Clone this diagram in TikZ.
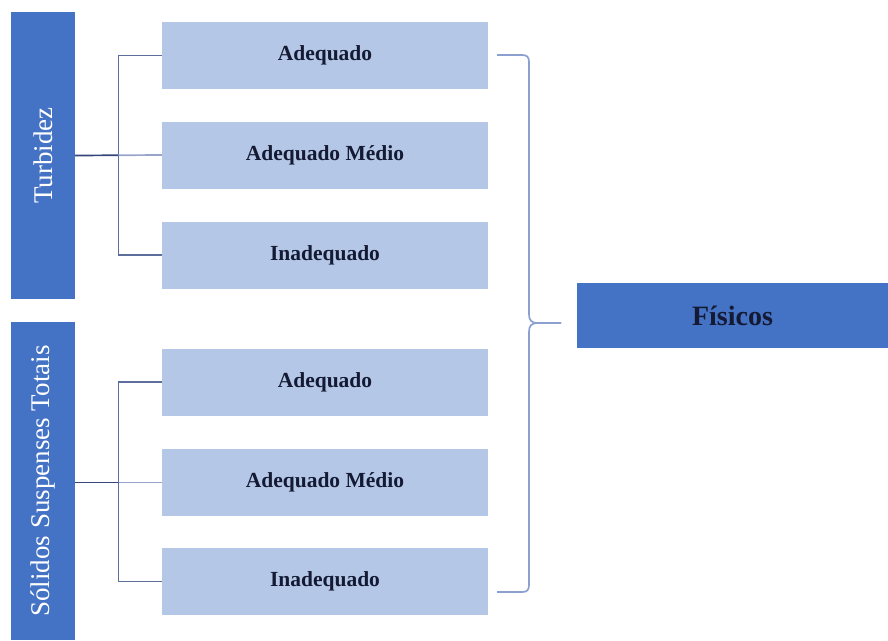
\documentclass[tikz,border=0pt]{standalone}
\usepackage{fontspec}
\setmainfont{Liberation Serif}
\usepackage{graphicx}
\usetikzlibrary{calc}

\definecolor{darkblue}{HTML}{4472C4}
\definecolor{lightblue}{HTML}{B4C7E7}
\definecolor{linenavy}{HTML}{34467A}
\definecolor{linegray}{HTML}{5E6E9C}
\definecolor{linelight}{HTML}{97A5CA}
\definecolor{bracecol}{HTML}{8CA0CF}
\definecolor{textnavy}{HTML}{141A33}

\begin{document}
\begin{tikzpicture}
  [x=1pt,y=-1pt,
   param/.style={fill=darkblue,minimum width=64pt,inner sep=0pt,text=white,font=\fontsize{27}{27}\selectfont},
   level/.style={fill=lightblue,minimum width=326pt,minimum height=67pt,inner sep=0pt,text=textnavy,font=\bfseries\fontsize{21.5}{21.5}\selectfont},
   group/.style={fill=darkblue,minimum width=311pt,minimum height=65pt,inner sep=0pt,text=textnavy,font=\bfseries\fontsize{28}{28}\selectfont},
   link/.style={line width=1.7pt}]
  \useasboundingbox (0,0) rectangle (888,640);

  \node[param,minimum height=287pt] (turb) at (43,155.5) {\rotatebox{90}{Turbidez}};
  \node[param,minimum height=318pt] (sst) at (43,481) {\rotatebox{90}{Sólidos Suspenses Totais}};

  \foreach \name/\y/\txt in {t1/55.5/Adequado,t2/155/Adequado Médio,t3/255/Inadequado,
                             s1/382/Adequado,s2/482.5/Adequado Médio,s3/581.5/Inadequado}
    \node[level] (\name) at (325,\y) {\txt};

  \node[group] (fis) at (732.5,315.5) {Físicos};

  % junctions
  \coordinate (tj) at ($(turb.east)!0.5!(t2.west)$);
  \coordinate (sj) at ($(sst.east |- s2.west)!0.5!(s2.west)$);

  \draw[link,linenavy] (turb.east) -- (tj);
  \draw[link,linegray] (t1.west) -| (tj) |- (t3.west);
  \draw[link,linelight] (tj) -- (t2.west);

  \draw[link,linenavy] (sst.east |- s2.west) -- (sj);
  \draw[link,linegray] (s1.west) -| (sj) |- (s3.west);
  \draw[link,linelight] (sj) -- (s2.west);

  % brace
  \coordinate (btip) at (561,323);
  \draw[link,bracecol]
    (497,55) -- (522,55) .. controls (527,55) and (529,57) .. (529,62)
    -- (529,314) .. controls (529,320) and (531,323) .. (538,323) -- (btip);
  \draw[link,bracecol]
    (btip) -- (538,323) .. controls (531,323) and (529,326) .. (529,332)
    -- (529,585) .. controls (529,590) and (527,592) .. (522,592) -- (497,592);

\end{tikzpicture}
\end{document}
